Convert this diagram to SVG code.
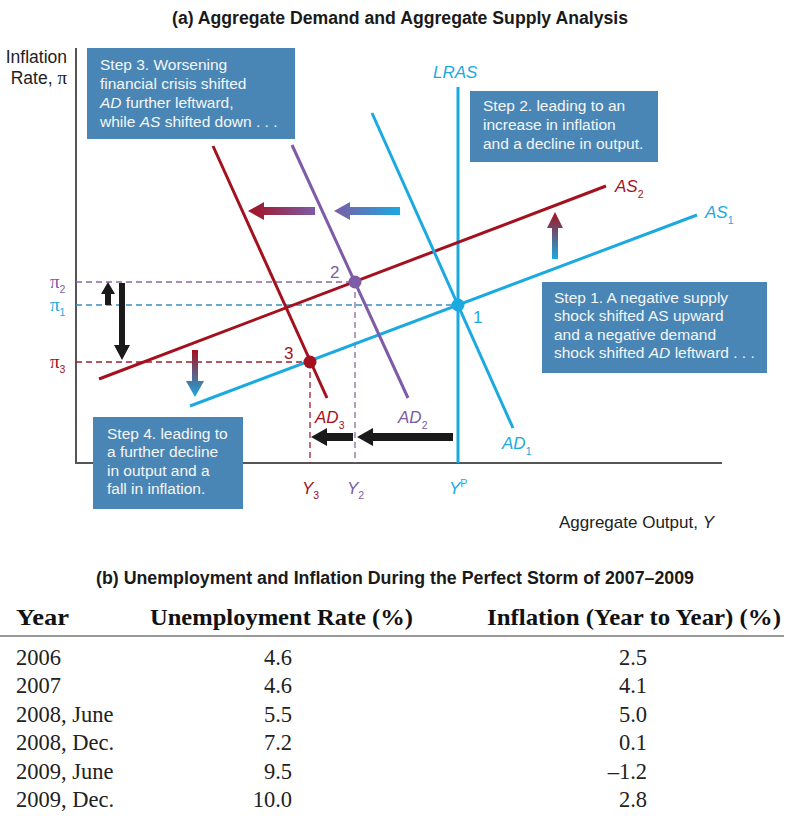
<svg xmlns="http://www.w3.org/2000/svg" width="789" height="816" viewBox="0 0 789 816">
<style>
.sans{font-family:"Liberation Sans",Arial,sans-serif}
.title{font-family:"Liberation Sans",Arial,sans-serif;font-weight:bold;font-size:18px;fill:#1a1a1a}
.box{fill:#4a86b5}
.bt{font-family:"Liberation Sans",Arial,sans-serif;font-size:15.5px;fill:#f4f6f8}
.lab{font-family:"Liberation Sans",Arial,sans-serif;font-size:17px;font-style:italic}
.sub{font-size:10.5px;font-style:normal}
.num{font-family:"Liberation Sans",Arial,sans-serif;font-size:17px}
.pi{font-family:"Liberation Serif","Times New Roman",serif;font-size:19px}
.cyan{fill:#1ba9e1}.red{fill:#a3111f}.pur{fill:#7d5ba6}
.axis{stroke:#555;stroke-width:2;fill:none}
.dash{stroke-width:1.3;stroke-dasharray:6 4;fill:none}
.th{font-family:"Liberation Serif","Times New Roman",serif;font-weight:bold;font-size:23px;fill:#111}
.td{font-family:"Liberation Serif","Times New Roman",serif;font-size:22.5px;fill:#222}
</style>
<defs>
<linearGradient id="gUp" x1="0" y1="1" x2="0" y2="0"><stop offset="0" stop-color="#1ba9e1"/><stop offset="1" stop-color="#a3111f"/></linearGradient>
<linearGradient id="gDown" x1="0" y1="0" x2="0" y2="1"><stop offset="0" stop-color="#a3111f"/><stop offset="1" stop-color="#1ba9e1"/></linearGradient>
<linearGradient id="gPC" x1="0" y1="0" x2="1" y2="0"><stop offset="0" stop-color="#7d5ba6"/><stop offset="1" stop-color="#1ba9e1"/></linearGradient>
<linearGradient id="gRP" x1="0" y1="0" x2="1" y2="0"><stop offset="0" stop-color="#a3111f"/><stop offset="1" stop-color="#7d5ba6"/></linearGradient>
</defs>

<text class="title" x="400" y="24" text-anchor="middle" textLength="456" lengthAdjust="spacingAndGlyphs">(a) Aggregate Demand and Aggregate Supply Analysis</text>

<g id="axes">
<polyline class="axis" points="76,48 76,463 722,463"/>
<text class="sans" x="67" y="63" font-size="17.5" text-anchor="end" fill="#222">Inflation</text>
<text class="sans" x="67" y="84" font-size="17.5" text-anchor="end" fill="#222">Rate, <tspan font-family="Liberation Serif, serif" font-size="19">π</tspan></text>
<text class="sans" x="559" y="528" font-size="17" fill="#222">Aggregate Output, <tspan font-style="italic">Y</tspan></text>
</g>

<g id="guides">
<line class="dash" x1="76" y1="282" x2="355" y2="282" stroke="#8a6a9e"/>
<line class="dash" x1="76" y1="305" x2="458" y2="305" stroke="#3a8fc0"/>
<line class="dash" x1="76" y1="362" x2="310" y2="362" stroke="#a3202e"/>
<line class="dash" x1="310" y1="362" x2="310" y2="463" stroke="#a3202e"/>
<line class="dash" x1="355" y1="282" x2="355" y2="463" stroke="#8a6a9e"/>
<text class="pi pur" x="50" y="288">π<tspan class="sub" font-family="Liberation Sans, sans-serif" dy="5">2</tspan></text>
<text class="pi cyan" x="50" y="311">π<tspan class="sub" font-family="Liberation Sans, sans-serif" dy="5">1</tspan></text>
<text class="pi red" x="50" y="368">π<tspan class="sub" font-family="Liberation Sans, sans-serif" dy="5">3</tspan></text>
</g>

<g id="curves">
<line id="LRAS" x1="458" y1="87" x2="458" y2="463" stroke="#1ba9e1" stroke-width="3"/>
<text class="lab cyan" x="433" y="78">LRAS</text>
<line id="AS1" x1="190" y1="406" x2="697" y2="215" stroke="#1ba9e1" stroke-width="3"/>
<text class="lab cyan" x="705" y="218">AS<tspan class="sub" dy="6">1</tspan></text>
<line id="AS2" x1="99" y1="379" x2="606" y2="186" stroke="#a3111f" stroke-width="3"/>
<text class="lab red" x="615" y="192">AS<tspan class="sub" dy="6">2</tspan></text>
<line id="AD1" x1="372" y1="113" x2="513" y2="428" stroke="#1ba9e1" stroke-width="3"/>
<text class="lab cyan" x="502" y="449">AD<tspan class="sub" dy="6">1</tspan></text>
<line id="AD2" x1="292" y1="145" x2="408" y2="398" stroke="#7d5ba6" stroke-width="3"/>
<text class="lab pur" x="398" y="423">AD<tspan class="sub" dy="6">2</tspan></text>
<line id="AD3" x1="213" y1="146" x2="327" y2="398" stroke="#a3111f" stroke-width="3"/>
<text class="lab red" x="315" y="423">AD<tspan class="sub" dy="6">3</tspan></text>
<text class="lab red" x="302" y="494">Y<tspan class="sub" dy="5">3</tspan></text>
<text class="lab pur" x="347" y="494">Y<tspan class="sub" dy="5">2</tspan></text>
<text class="lab cyan" x="449" y="494">Y<tspan class="sub" dy="-7">P</tspan></text>
</g>

<g id="points">
<circle cx="458" cy="305" r="6.5" fill="#1ba9e1"/>
<text class="num cyan" x="473" y="323">1</text>
<circle cx="355" cy="282" r="6.5" fill="#7d5ba6"/>
<text class="num pur" x="330" y="278">2</text>
<circle cx="310" cy="362" r="6.5" fill="#a3111f"/>
<text class="num red" x="284" y="359">3</text>
</g>

<g id="arrows">
<polygon fill="url(#gUp)" points="552,259 552,228 547,228 555,212 563,228 558,228 558,259"/>
<polygon fill="url(#gDown)" points="192,350 198,350 198,381 204,381 195,397 186,381 192,381"/>
<polygon fill="url(#gPC)" points="400,207 350,207 350,202 334,211 350,220 350,215 400,215"/>
<polygon fill="url(#gRP)" points="315,207 264,207 264,202 248,211 264,220 264,215 315,215"/>
<polygon fill="#1a1a1a" points="105,305 111,305 111,294 115,294 108,282 101,294 105,294"/>
<polygon fill="#1a1a1a" points="119,283 125,283 125,345 130,345 122,360 114,345 119,345"/>
<polygon fill="#1a1a1a" points="453,433 373,433 373,428 357,437 373,446 373,441 453,441"/>
<polygon fill="#1a1a1a" points="353,433 327,433 327,428 311,437 327,446 327,441 353,441"/>
</g>

<g id="step3">
<rect class="box" x="87" y="48" width="208" height="91"/>
<text class="bt" x="100" y="70">Step 3. Worsening</text>
<text class="bt" x="100" y="89">financial crisis shifted</text>
<text class="bt" x="100" y="108"><tspan font-style="italic">AD</tspan> further leftward,</text>
<text class="bt" x="100" y="127">while <tspan font-style="italic">AS</tspan> shifted down . . .</text>
</g>
<g id="step2">
<rect class="box" x="470" y="91" width="188" height="71"/>
<text class="bt" x="483" y="111">Step 2. leading to an</text>
<text class="bt" x="483" y="130">increase in inflation</text>
<text class="bt" x="483" y="149">and a decline in output.</text>
</g>
<g id="step1">
<rect class="box" x="542" y="282" width="225" height="91"/>
<text class="bt" x="554" y="303">Step 1. A negative supply</text>
<text class="bt" x="554" y="321">shock shifted AS upward</text>
<text class="bt" x="554" y="340">and a negative demand</text>
<text class="bt" x="554" y="358">shock shifted <tspan font-style="italic">AD</tspan> leftward . . .</text>
</g>
<g id="step4">
<rect class="box" x="93" y="417" width="150" height="92"/>
<text class="bt" x="107" y="439">Step 4. leading to</text>
<text class="bt" x="107" y="457">a further decline</text>
<text class="bt" x="107" y="476">in output and a</text>
<text class="bt" x="107" y="494">fall in inflation.</text>
</g>

<g id="table">
<text class="title" x="395" y="584" text-anchor="middle" textLength="598" lengthAdjust="spacingAndGlyphs">(b) Unemployment and Inflation During the Perfect Storm of 2007–2009</text>
<text class="th" x="16" y="625" textLength="53" lengthAdjust="spacingAndGlyphs">Year</text>
<text class="th" x="150" y="625" textLength="263" lengthAdjust="spacingAndGlyphs">Unemployment Rate (%)</text>
<text class="th" x="487" y="625" textLength="294" lengthAdjust="spacingAndGlyphs">Inflation (Year to Year) (%)</text>
<line x1="0" y1="636" x2="784" y2="636" stroke="#777" stroke-width="1.5"/>
<g class="td">
<text x="16" y="665">2006</text><text x="292" y="665" text-anchor="end">4.6</text><text x="647" y="665" text-anchor="end">2.5</text>
<text x="16" y="693">2007</text><text x="292" y="693" text-anchor="end">4.6</text><text x="647" y="693" text-anchor="end">4.1</text>
<text x="16" y="722">2008, June</text><text x="292" y="722" text-anchor="end">5.5</text><text x="647" y="722" text-anchor="end">5.0</text>
<text x="16" y="750">2008, Dec.</text><text x="292" y="750" text-anchor="end">7.2</text><text x="647" y="750" text-anchor="end">0.1</text>
<text x="16" y="779">2009, June</text><text x="292" y="779" text-anchor="end">9.5</text><text x="647" y="779" text-anchor="end">–1.2</text>
<text x="16" y="807">2009, Dec.</text><text x="292" y="807" text-anchor="end">10.0</text><text x="647" y="807" text-anchor="end">2.8</text>
</g>
</g>
</svg>
